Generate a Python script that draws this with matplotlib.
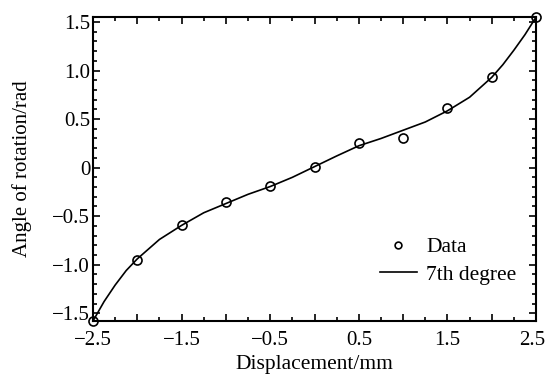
import numpy as np
import matplotlib
matplotlib.use("Agg")
import matplotlib.pyplot as plt
import matplotlib.transforms as mtrans
from matplotlib.ticker import MultipleLocator

plt.rcParams['font.family'] = ['Liberation Serif', 'DejaVu Serif']

# measured points
disp = [-2.5, -2.0, -1.5, -1.0, -0.5, 0.0, 0.5, 1.0, 1.5, 2.0, 2.5]
angle = [-1.58, -0.95, -0.59, -0.35, -0.19, 0.01, 0.25, 0.31, 0.61, 0.93, 1.55]

# 7th degree fit
fit_x = [-2.5, -2.375, -2.25, -2.125, -2.0, -1.75, -1.5, -1.25, -1.0, -0.75, -0.5, -0.25,
         0.0, 0.25, 0.5, 0.75, 1.0, 1.25, 1.5, 1.75, 2.0, 2.125, 2.25, 2.375, 2.5]
fit_y = [-1.58, -1.38, -1.21, -1.06, -0.94, -0.74, -0.595, -0.465, -0.37, -0.275, -0.195, -0.10,
         0.01, 0.12, 0.225, 0.30, 0.385, 0.47, 0.585, 0.725, 0.93, 1.06, 1.21, 1.37, 1.55]

xticks = [-2.5, -2.0, -1.5, -1.0, -0.5, 0.0, 0.5, 1.0, 1.5, 2.0, 2.5]
xlabels = ['\u22122.5', '', '\u22121.5', '', '\u22120.5', '', '0.5', '', '1.5', '', '2.5']
yticks = [-1.5, -1.0, -0.5, 0.0, 0.5, 1.0, 1.5]
ylabels = ['\u22121.5', '\u22121.0', '\u22120.5', '0', '0.5', '1.0', '1.5']

fig = plt.figure(figsize=(5.47, 3.81), dpi=100)
ax = fig.add_axes([0.170, 0.1575, 0.810, 0.7975])

ax.plot(fit_x, fit_y, '-', color='black', lw=1.2, label='7th degree', zorder=2)
ax.plot(disp, angle, 'o', mfc='none', mec='black', mew=1.2, ms=6.5, label='Data',
        clip_on=False, zorder=3)

ax.set_xlim(-2.5, 2.5)
ax.set_ylim(-1.58, 1.55)
ax.set_xticks(xticks)
ax.set_xticklabels(xlabels)
ax.set_yticks(yticks)
ax.set_yticklabels(ylabels)
ax.xaxis.set_minor_locator(MultipleLocator(0.25))
ax.yaxis.set_minor_locator(MultipleLocator(0.1))
ax.tick_params(which='both', direction='in', top=True, right=True, width=1.2,
               labelsize=15)
ax.tick_params(axis='x', which='major', pad=7)
ax.tick_params(axis='y', which='major', pad=2)
ax.tick_params(which='major', length=5)
ax.tick_params(which='minor', length=3)
for s in ax.spines.values():
    s.set_linewidth(1.5)

# keep the last x label inside the figure
last = ax.get_xticklabels()[-1]
last.set_transform(last.get_transform() +
                   mtrans.ScaledTranslation(-4 / 100, 0, fig.dpi_scale_trans))

ax.set_xlabel('Displacement/mm', fontsize=15.5, labelpad=4)
ax.set_ylabel('Angle of rotation/rad', fontsize=15)
ax.yaxis.set_label_coords(-0.138, 0.5)

h, l = ax.get_legend_handles_labels()
ax.legend(h[::-1], l[::-1], loc='lower right', bbox_to_anchor=(1.0, 0.055),
          frameon=False, fontsize=15.5, markerscale=0.75, handlelength=1.7,
          handletextpad=0.45, labelspacing=0.35)

fig.savefig('out.png', dpi=100)
